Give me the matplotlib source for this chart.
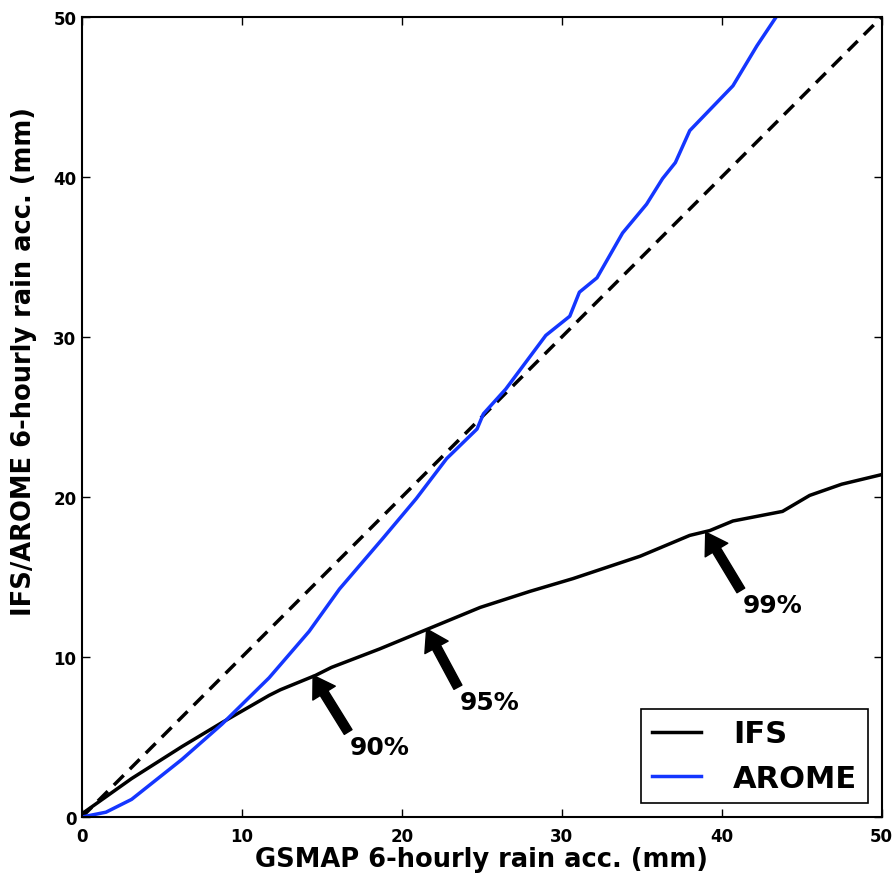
import numpy as np
import matplotlib
matplotlib.use("Agg")
import matplotlib.pyplot as plt

# GSMAP quantile values (x) and model quantile values (y)
ifs_x = [0, 3.1, 6.25, 8.75, 11.7, 12.4, 14.6, 15.6, 18.6, 21.75, 24.9, 28.0,
         30.7, 34.9, 38.0, 39.25, 40.7, 43.8, 45.5, 47.5, 50]
ifs_y = [0.2, 2.4, 4.4, 5.9, 7.6, 7.95, 8.85, 9.35, 10.5, 11.8, 13.1, 14.1,
         14.9, 16.3, 17.6, 17.9, 18.5, 19.1, 20.1, 20.8, 21.4]

arome_x = [0, 1.5, 3.1, 6.25, 8.75, 11.7, 14.2, 16.1, 18.8, 20.9, 22.8, 24.7,
           25.1, 26.5, 29.0, 30.5, 31.1, 32.2, 33.8, 35.3, 36.3, 37.1, 38.0,
           40.7, 42.2, 43.4, 44.0]
arome_y = [0, 0.3, 1.1, 3.6, 5.8, 8.7, 11.6, 14.25, 17.4, 19.9, 22.4, 24.25,
           25.2, 26.75, 30.1, 31.3, 32.8, 33.7, 36.5, 38.3, 39.9, 40.9, 42.9,
           45.7, 48.2, 50.0, 51.0]

labels = ["90%", "95%", "99%"]
label_xy = [(14.45, 8.85), (21.55, 11.75), (39.0, 17.8)]
label_text = [(16.75, 3.95), (23.6, 6.75), (41.3, 12.8)]

fig = plt.figure(figsize=(8.96, 8.79), dpi=100)
ax = fig.add_axes([0.0915, 0.0694, 0.8925, 0.9101])

ax.plot([0, 50], [0, 50], color="k", lw=2.5, dashes=(4, 2.5))
ax.plot(ifs_x, ifs_y, color="k", lw=2.5, label="IFS")
ax.plot(arome_x, arome_y, color="#1436ff", lw=2.5, label="AROME")

for lab, xy, xyt in zip(labels, label_xy, label_text):
    ax.annotate(lab, xy=xy, xytext=xyt, fontsize=18, fontweight="bold",
                arrowprops=dict(facecolor="black", edgecolor="black",
                                shrink=0.0, width=6.5, headwidth=19, headlength=15))

ax.set_xlim(0, 50)
ax.set_ylim(0, 50)
ax.set_xticks(np.arange(0, 51, 10))
ax.set_yticks(np.arange(0, 51, 10))
ax.tick_params(direction="in", top=True, right=True, length=6, width=1,
               labelsize=12)
ax.tick_params(axis="x", pad=7)
ax.tick_params(axis="y", pad=4)
for t in ax.get_xticklabels() + ax.get_yticklabels():
    t.set_fontweight("bold")
for s in ax.spines.values():
    s.set_linewidth(1.5)

ax.set_xlabel("GSMAP 6-hourly rain acc. (mm)", fontsize=18.5, fontweight="bold",
              labelpad=1)
ax.set_ylabel("IFS/AROME 6-hourly rain acc. (mm)", fontsize=18.5,
              fontweight="bold")
ax.yaxis.set_label_coords(-0.056, 0.571)

leg = ax.legend(loc="lower right", prop=dict(size=22, weight="bold"),
                fancybox=False, framealpha=1, edgecolor="k",
                handlelength=1.6, handletextpad=1.05, borderaxespad=0.45,
                borderpad=0.35)
leg.get_frame().set_linewidth(1.2)

fig.savefig("out.png", dpi=100)
